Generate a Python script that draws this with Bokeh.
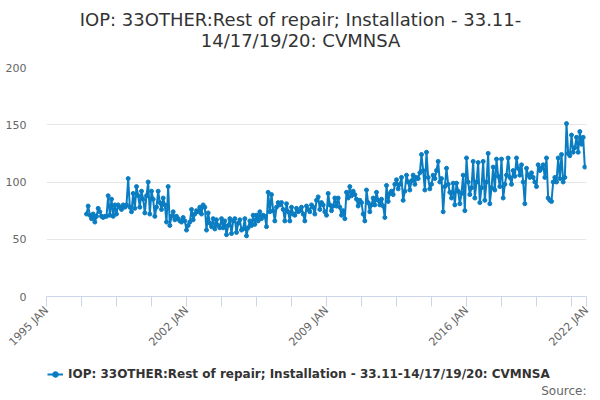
from math import pi
from bokeh.plotting import figure
from bokeh.layouts import column
from bokeh.models import (FixedTicker, Legend, LegendItem, ColumnDataSource, Label, Range1d)
from bokeh.embed import file_html
from bokeh.resources import INLINE

# ---- data (monthly, Jan 1997 - Dec 2021) ----
y1997 = [72, 79, 71, 68, 72, 65, 70, 77, 74, 70, 69, 70]
y1998 = [70, 88, 71, 85, 70, 80, 72, 80, 78, 76, 80, 78]
y1999 = [80, 103, 78, 74, 90, 77, 96, 88, 78, 92, 85, 73]
y2000 = [88, 100, 72, 92, 85, 70, 78, 92, 82, 76, 86, 80]
y2001 = [65, 96, 62, 70, 74, 67, 70, 68, 66, 65, 69, 66]
y2002 = [58, 62, 65, 76, 67, 72, 75, 74, 78, 72, 80, 78]
y2003 = [58, 73, 64, 61, 68, 59, 67, 62, 60, 68, 60, 66]
y2004 = [54, 62, 68, 55, 66, 68, 56, 64, 67, 58, 59, 68]
y2005 = [53, 60, 66, 62, 71, 63, 71, 66, 74, 68, 71, 70]
y2006 = [61, 91, 74, 89, 75, 66, 78, 82, 80, 82, 76, 66]
y2007 = [81, 74, 66, 78, 72, 71, 77, 74, 75, 78, 72, 66]
y2008 = [79, 76, 74, 80, 78, 72, 84, 87, 76, 82, 80, 74]
y2009 = [71, 90, 80, 75, 79, 86, 79, 86, 78, 71, 75, 68]
y2010 = [91, 86, 96, 88, 92, 89, 85, 79, 84, 82, 72, 66]
y2011 = [93, 82, 74, 80, 86, 80, 91, 84, 80, 85, 79, 69]
y2012 = [97, 83, 90, 92, 89, 98, 102, 94, 98, 104, 84, 92]
y2013 = [106, 100, 93, 101, 106, 98, 104, 103, 108, 124, 110, 93]
y2014 = [126, 104, 94, 98, 106, 103, 110, 118, 100, 103, 74, 96]
y2015 = [112, 98, 91, 86, 99, 80, 99, 92, 81, 90, 106, 75]
y2016 = [121, 100, 89, 95, 118, 86, 100, 117, 82, 95, 118, 84]
y2017 = [100, 125, 81, 95, 113, 93, 120, 105, 96, 120, 86, 98]
y2018 = [106, 121, 104, 98, 110, 105, 121, 112, 106, 115, 100, 81]
y2019 = [112, 106, 104, 108, 104, 100, 96, 115, 110, 112, 115, 104]
y2020 = [121, 86, 84, 83, 100, 104, 100, 121, 103, 124, 100, 104]
y2021 = [151, 125, 123, 141, 126, 130, 139, 126, 144, 133, 139, 113]

years = list(range(1997, 2022))
yearly = [y1997, y1998, y1999, y2000, y2001, y2002, y2003, y2004, y2005,
          y2006, y2007, y2008, y2009, y2010, y2011, y2012, y2013, y2014,
          y2015, y2016, y2017, y2018, y2019, y2020, y2021]

x_ticks = [1995 + 1.75 * k for k in range(16)] + [2022]
tick_labels = {1995: "1995 JAN", 2002: "2002 JAN", 2009: "2009 JAN",
               2016: "2016 JAN", 2022: "2022 JAN"}
y_ticks = [0, 50, 100, 150, 200]

series_name = "IOP: 33OTHER:Rest of repair; Installation - 33.11-14/17/19/20: CVMNSA"
title_1 = "IOP: 33OTHER:Rest of repair; Installation - 33.11-"
title_2 = "14/17/19/20: CVMNSA"
source_text = "Source:"

xs, vs = [], []
for yr, vals in zip(years, yearly):
    for m, v in enumerate(vals):
        xs.append(yr + m / 12.0)
        vs.append(v)
src = ColumnDataSource(dict(x=xs, y=vs))

FONT = "DejaVu Sans"
BLUE = "#0a7dc2"


def bare(h):
    f = figure(width=600, height=h, output_backend="svg", toolbar_location=None,
               x_axis_location=None, y_axis_location=None,
               min_border=0, min_border_left=0, min_border_right=0,
               min_border_top=0, min_border_bottom=0)
    f.title = None
    f.outline_line_color = None
    f.xgrid.grid_line_color = None
    f.ygrid.grid_line_color = None
    return f


# ---- title strip (page y 0..56); frames are aligned at x=46 by the column ----
top = bare(56)
top.x_range = Range1d(0, 600)
top.y_range = Range1d(0, 56)
for txt, yy in ((title_1, 37), (title_2, 16)):
    top.add_layout(Label(x=254, y=yy, x_units="screen", y_units="screen", text=txt,
                         text_align="center", text_baseline="middle",
                         text_font=FONT, text_font_size="18px", text_color="#333333"))

# ---- main chart (page y 56..362) ----
p = figure(width=600, height=306, output_backend="svg", toolbar_location=None,
           x_range=(1995, 2022), y_range=(0, 200),
           min_border_left=46, min_border_right=14, min_border_top=11,
           min_border_bottom=66)
p.title = None
p.outline_line_color = None

r_line = p.line("x", "y", source=src, line_color=BLUE, line_width=2)
r_pts = p.scatter("x", "y", source=src, size=4, fill_color=BLUE, line_color=BLUE)

xa = p.xaxis[0]
xa.axis_label = None
xa.ticker = FixedTicker(ticks=x_ticks, minor_ticks=[])
xa.major_label_overrides = {t: tick_labels.get(t, "") for t in x_ticks}
xa.major_label_orientation = pi / 4
xa.axis_line_color = "#ccd6eb"
xa.major_tick_line_color = "#ccd6eb"
xa.major_tick_out = 10
xa.major_tick_in = 0
xa.minor_tick_line_color = None
xa.major_label_text_font = FONT
xa.major_label_text_font_size = "11px"
xa.major_label_text_color = "#666666"
xa.major_label_standoff = 2

ya = p.yaxis[0]
ya.axis_label = None
ya.ticker = FixedTicker(ticks=y_ticks, minor_ticks=[])
ya.axis_line_color = None
ya.major_tick_line_color = None
ya.minor_tick_line_color = None
ya.major_label_text_font = FONT
ya.major_label_text_font_size = "11px"
ya.major_label_text_color = "#666666"
ya.major_label_standoff = 14

p.xgrid.grid_line_color = None
p.ygrid.grid_line_color = "#e6e6e6"
p.ygrid.ticker = FixedTicker(ticks=y_ticks)

# ---- legend / source strip (page y 362..400) ----
bot = bare(38)
bot.x_range = Range1d(1995, 2022)
bot.y_range = Range1d(1000, 1001)   # series itself out of view: only the legend key shows
lb = bot.line("x", "y", source=src, line_color=BLUE, line_width=2)
sb = bot.scatter("x", "y", source=src, size=4, fill_color=BLUE, line_color=BLUE)
leg = Legend(items=[LegendItem(label=series_name, renderers=[lb, sb])],
             location=(1, 19), orientation="horizontal",
             label_text_font=FONT, label_text_font_size="12px",
             label_text_font_style="bold", label_text_color="#333333",
             glyph_width=16, glyph_height=14, label_standoff=5, label_height=14,
             padding=0, margin=0, border_line_color=None,
             background_fill_alpha=0)
bot.add_layout(leg, "center")
bot.add_layout(Label(x=540, y=10, x_units="screen", y_units="screen", text=source_text,
                     text_align="right", text_baseline="middle",
                     text_font=FONT, text_font_size="12px", text_color="#666666"))

layout = column(top, p, bot, spacing=0)
open("out.html", "w").write(file_html(layout, INLINE))
